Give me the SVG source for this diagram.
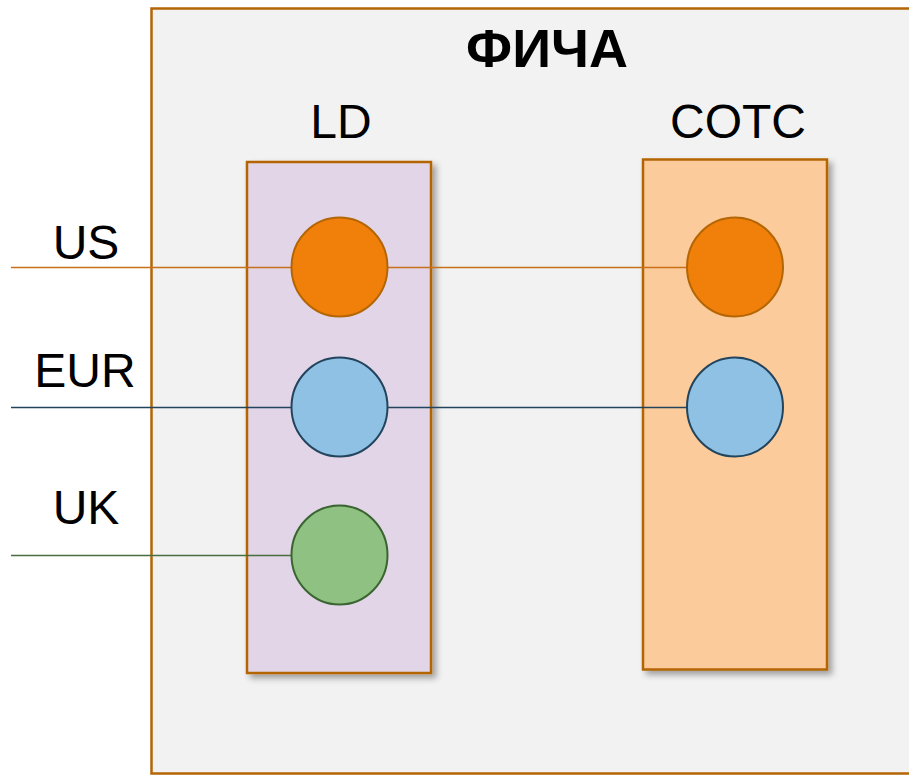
<svg xmlns="http://www.w3.org/2000/svg" width="909" height="775" viewBox="0 0 909 775">
<defs>
<filter id="sh" x="-10%" y="-10%" width="130%" height="130%">
<feDropShadow dx="4" dy="4" stdDeviation="3" flood-color="#000" flood-opacity="0.35"/>
</filter>
</defs>
<style>
text{font-family:"Liberation Sans",Arial,sans-serif;fill:#000;text-anchor:middle}
.lbl{font-size:48px}
.box{stroke:#b46504;stroke-width:2.5}
.ln{fill:none;stroke-width:1.5}
.c{stroke-width:2}
</style>
<rect width="909" height="775" fill="#ffffff"/>
<g id="feature">
<rect x="151.5" y="8.5" width="762" height="765" fill="#f2f2f2" stroke="#b46504" stroke-width="2.5"/>
<text x="547" y="67" style="font-size:54px;font-weight:bold">ФИЧА</text>
</g>
<g id="ld">
<rect class="box" x="247" y="162" width="184" height="511" fill="#e1d5e7" filter="url(#sh)"/>
<text class="lbl" x="341" y="138">LD</text>
</g>
<g id="cotc">
<rect class="box" x="643" y="159.5" width="184" height="510" fill="#fbcb9b" filter="url(#sh)"/>
<text class="lbl" x="738" y="138">COTC</text>
</g>
<g id="labels">
<text class="lbl" x="86" y="259">US</text>
<text class="lbl" x="85" y="387">EUR</text>
<text class="lbl" x="86" y="524">UK</text>
</g>
<g id="connectors">
<line class="ln" x1="11" y1="267.5" x2="735" y2="267.5" stroke="#c8701a"/>
<line class="ln" x1="11" y1="407.5" x2="735" y2="407.5" stroke="#23445d"/>
<line class="ln" x1="11" y1="555.5" x2="339" y2="555.5" stroke="#4a6e3f"/>
</g>
<g id="ld-us"><ellipse class="c" cx="339.5" cy="267" rx="48" ry="49.5" fill="#f0800a" stroke="#b46504"/></g>
<g id="ld-eur"><ellipse class="c" cx="339.5" cy="407" rx="48" ry="49.5" fill="#8ec1e4" stroke="#23445d"/></g>
<g id="ld-uk"><ellipse class="c" cx="339.5" cy="555" rx="48" ry="49.5" fill="#8fc183" stroke="#3a6530"/></g>
<g id="cotc-us"><ellipse class="c" cx="735" cy="267" rx="48" ry="49.5" fill="#f0800a" stroke="#b46504"/></g>
<g id="cotc-eur"><ellipse class="c" cx="735" cy="407" rx="48" ry="49.5" fill="#8ec1e4" stroke="#23445d"/></g>
</svg>
